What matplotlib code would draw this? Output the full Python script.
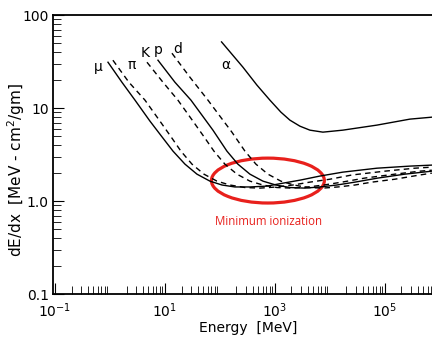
import matplotlib
matplotlib.use('Agg')
import matplotlib.pyplot as plt
from matplotlib.patches import Ellipse
from matplotlib.ticker import FixedLocator, FixedFormatter, LogLocator, NullFormatter

# kinetic energy [MeV] and dE/dx [MeV cm^2/g]
mu_E = [0.92, 1.65, 2.85, 5.34, 9.2, 14.0, 23.1, 38.2, 65.8, 109, 187, 351, 716, 1400,
        2850, 6580, 17200, 71600, 285000, 715000]
mu_dedx = [31.2, 19.0, 12.2, 7.25, 4.76, 3.45, 2.50, 1.95, 1.64, 1.49, 1.42, 1.42, 1.45,
           1.56, 1.68, 1.86, 2.05, 2.26, 2.38, 2.44]

pi_E = [1.13, 2.21, 4.33, 8.11, 13.4, 19.5, 31.0, 51.2, 88.2, 152, 285, 534, 1090, 2120,
        4330, 10000, 25100, 100000, 351000, 715000]
pi_dedx = [32.8, 19.0, 12.2, 7.25, 4.76, 3.45, 2.50, 1.95, 1.64, 1.49, 1.40, 1.38, 1.42,
           1.49, 1.60, 1.72, 1.91, 2.10, 2.26, 2.32]

k_E = [4.71, 9.2, 17.2, 32.3, 53.4, 77.8, 123, 204, 351, 605, 1090, 2040, 3980, 7780,
       16500, 43300, 152000, 433000, 715000]
k_dedx = [31.2, 19.0, 12.2, 7.25, 4.76, 3.45, 2.50, 1.95, 1.64, 1.49, 1.40, 1.38, 1.42,
          1.49, 1.60, 1.77, 1.95, 2.10, 2.15]

p_E = [7.46, 15.2, 29.7, 47.1, 74.6, 134, 212, 351, 605, 1040, 1875, 3510, 6580, 13400,
       28500, 74600, 231000, 715000]
p_dedx = [32.8, 19.0, 12.2, 8.41, 5.80, 3.45, 2.50, 1.95, 1.64, 1.49, 1.40, 1.38, 1.42,
          1.49, 1.60, 1.77, 1.95, 2.10]

d_E = [13.4, 28.5, 60.5, 100, 165, 285, 451, 746, 1285, 2215, 3980, 7460, 13970, 28500,
       58000, 152000, 433000, 715000]
d_dedx = [39.0, 21.5, 12.2, 8.2, 5.52, 3.45, 2.50, 1.95, 1.64, 1.49, 1.40, 1.38, 1.42,
          1.49, 1.60, 1.72, 1.91, 2.00]

alpha_E = [107, 262, 471, 811, 1285, 1875, 2850, 4330, 7460, 17200, 71600, 285000, 715000]
alpha_dedx = [51.6, 27.6, 17.7, 12.2, 9.06, 7.43, 6.40, 5.80, 5.52, 5.80, 6.57, 7.62, 8.0]

ytick_vals = [0.1, 1, 10, 100]
ytick_labels = ['0.1', '1.0', '10', '100']
xtick_vals = [1e-1, 1e1, 1e3, 1e5]
xtick_labels = ['$10^{-1}$', '$10^{1}$', '$10^{3}$', '$10^{5}$']

fig = plt.figure(figsize=(4.32, 3.38), dpi=100)
ax = fig.add_axes([0.1227, 0.130, 0.8773, 0.825])
ax.set_xscale('log')
ax.set_yscale('log')

dash = (0, (4, 3))
ax.plot(mu_E, mu_dedx, color='black', lw=1.0)
ax.plot(pi_E, pi_dedx, color='black', lw=1.0, linestyle=dash)
ax.plot(k_E, k_dedx, color='black', lw=1.0, linestyle=dash)
ax.plot(p_E, p_dedx, color='black', lw=1.0)
ax.plot(d_E, d_dedx, color='black', lw=1.0, linestyle=dash)
ax.plot(alpha_E, alpha_dedx, color='black', lw=1.0)

# curve labels
ax.text(0.60, 28, 'μ', fontsize=10, ha='center', va='center')
ax.text(2.5, 29, 'π', fontsize=10, ha='center', va='center')
ax.text(4.3, 39, 'K', fontsize=10, ha='center', va='center')
ax.text(7.5, 42, 'p', fontsize=10, ha='center', va='center')
ax.text(17, 43, 'd', fontsize=10, ha='center', va='center')
ax.text(128, 29, 'α', fontsize=10, ha='center', va='center')

ax.set_xlim(0.092, 7.2e5)
ax.set_ylim(0.1, 100)

ax.spines['right'].set_visible(False)
for s in ['left', 'bottom', 'top']:
    ax.spines[s].set_linewidth(1.3)

ax.yaxis.set_major_locator(FixedLocator(ytick_vals))
ax.yaxis.set_major_formatter(FixedFormatter(ytick_labels))
ax.yaxis.set_minor_locator(LogLocator(base=10, subs=range(2, 10), numticks=20))
ax.yaxis.set_minor_formatter(NullFormatter())
ax.xaxis.set_major_locator(FixedLocator(xtick_vals))
ax.xaxis.set_major_formatter(FixedFormatter(xtick_labels))
ax.xaxis.set_minor_locator(LogLocator(base=10, subs=range(2, 10), numticks=20))
ax.xaxis.set_minor_formatter(NullFormatter())

ax.tick_params(which='major', direction='in', length=8, width=0.8, labelsize=10, top=False, right=False)
ax.tick_params(which='minor', direction='in', length=6, width=0.6, top=False, right=False)
ax.tick_params(axis='x', which='major', pad=5)
ax.tick_params(axis='y', which='major', pad=3)

ax.set_xlabel('Energy  [MeV]', fontsize=10)
ax.xaxis.set_label_coords(0.515, -0.095)
ax.set_ylabel('dE/dx  [MeV - cm$^2$/gm]', fontsize=11)
ax.yaxis.set_label_coords(-0.068, 0.444)

# minimum ionization highlight
ell = Ellipse((0.567, 0.407), 0.298, 0.161, transform=ax.transAxes, fill=False,
              edgecolor='#e8201c', lw=2.3)
ax.add_patch(ell)
ax.text(0.57, 0.262, 'Minimum ionization', transform=ax.transAxes, color='#e8201c',
        fontsize=8.3, family='Open Sans', ha='center', va='center')

fig.savefig('out.png', dpi=100)
